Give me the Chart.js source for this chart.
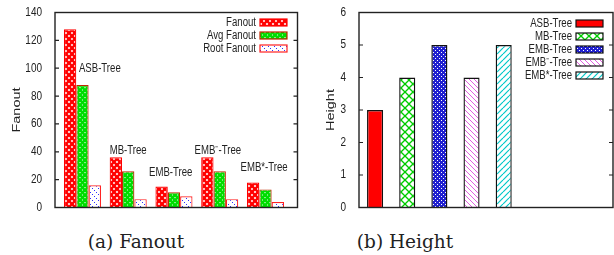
<!DOCTYPE html>
<html><head><meta charset="utf-8">
<script src="https://cdn.jsdelivr.net/npm/chart.js@4"></script>
<style>
body{margin:0;background:#fff;width:614px;height:255px;position:relative;overflow:hidden}
#c1{position:absolute;left:0;top:0}
#c2{position:absolute;left:305px;top:0}
.cap{position:absolute;top:231px;font-family:"DejaVu Serif";font-size:18.5px;color:#222;white-space:nowrap;transform:translateX(-50%)}
</style></head><body>
<canvas id="c1" width="300" height="220"></canvas>
<canvas id="c2" width="309" height="220"></canvas>
<div class="cap" style="left:136px">(a) Fanout</div>
<div class="cap" style="left:405px">(b) Height</div>
<script>
// ---- data ----
const treeCategories = ['ASB-Tree','MB-Tree','EMB-Tree','EMB\u207B-Tree','EMB*-Tree'];
const fanoutSeriesNames = ['Fanout','Avg Fanout','Root Fanout'];
const fanoutValues = [128,36,15,36,18];
const avgFanoutValues = [88,26,11,26,13];
const rootFanoutValues = [16,6,8,6,4];
const fanoutTicks = [0,20,40,60,80,100,120,140];
const groupLabelAnchorX = [0.38,1.0,1.93,2.96,3.97];
const groupLabelAnchorY = [99.5,40.5,24.7,40.5,28.3];
const heightValues = [3,4,5,4,5];
const heightTicks = [0,1,2,3,4,5,6];

// ---- patterns ----
function tile(size, fn){
  const c=document.createElement('canvas'); c.width=c.height=size;
  const g=c.getContext('2d'); fn(g,size);
  return c.getContext('2d').createPattern(c,'repeat');
}
function diag(g,s,dir){ // dir 1 = "\" , -1 = "/"
  for(const k of [-s,0,s]){
    g.beginPath();
    if(dir>0){g.moveTo(k,0);g.lineTo(k+s,s);} else {g.moveTo(k+s,0);g.lineTo(k,s);}
    g.stroke();
  }
}
function cross(bg,fg,s,lw){
  return tile(s,(g)=>{g.fillStyle=bg;g.fillRect(0,0,s,s);g.strokeStyle=fg;g.lineWidth=lw;diag(g,s,1);diag(g,s,-1);});
}
const patFanout = cross('#ffffff','#ff0000',6,2.4);
const patAvg = cross('#ffffff','#00dd00',5,2.6);
const patRoot = tile(6,(g)=>{g.fillStyle='#fff';g.fillRect(0,0,6,6);g.fillStyle='#3030ff';g.fillRect(0,0,1,1);g.fillRect(2,2,1,1);g.fillRect(4,4,1,1);});
const patMB = cross('#ffffff','#00cc00',8,1.3);
const patEMB = tile(4,(g)=>{g.fillStyle='#2020d0';g.fillRect(0,0,4,4);g.fillStyle='#fff';g.fillRect(0,0,1,1);g.fillRect(2,2,1,1);});
const patEMBm = tile(5,(g)=>{g.fillStyle='#fff';g.fillRect(0,0,5,5);g.strokeStyle='#e060e0';g.lineWidth=1;diag(g,5,1);});
const patEMBs = tile(6,(g)=>{g.fillStyle='#fff';g.fillRect(0,0,6,6);g.strokeStyle='#00c8c8';g.lineWidth=1.2;diag(g,6,-1);});

// ---- condensed text (reference is horizontally squeezed) ----
function condense(ctx,f){
  const orig=ctx.fillText;
  ctx.fillText=function(t,x,y,mw){
    const m=this.getTransform();
    const p=m.transformPoint(new DOMPoint(x,y));
    this.save();
    this.setTransform(new DOMMatrix().translate(p.x,p.y).scale(f,1).translate(-p.x,-p.y).multiply(m));
    if(mw===undefined) orig.call(this,t,x,y); else orig.call(this,t,x,y,mw);
    this.restore();
  };
}
const FONT='"Liberation Sans", Arial, sans-serif';
const INK='#222';

const framePlugin={id:'frame',afterDatasetsDraw(chart){
  const ctx=chart.ctx,a=chart.chartArea,y=chart.scales.y;
  ctx.save();ctx.strokeStyle=INK;ctx.lineWidth=1.4;
  ctx.strokeRect(a.left,a.top,a.right-a.left,a.bottom-a.top);
  ctx.lineWidth=1.2;
  y.ticks.forEach(t=>{const py=y.getPixelForValue(t.value);
    ctx.beginPath();ctx.moveTo(a.left,py);ctx.lineTo(a.left+4,py);ctx.moveTo(a.right,py);ctx.lineTo(a.right-4,py);ctx.stroke();});
  ctx.restore();
}};
function legendPlugin(items,rightInset,topInset){
  return {id:'keybox',afterDraw(chart){
    const ctx=chart.ctx,a=chart.chartArea;
    ctx.save();ctx.font='12px '+FONT;ctx.textAlign='right';ctx.textBaseline='middle';
    items(chart).forEach((it,i)=>{
      const y=a.top+topInset+i*13, sr=a.right-rightInset, sl=sr-27;
      ctx.fillStyle=it.fill;ctx.fillRect(sl,y-3.5,27,7);
      ctx.strokeStyle=it.border;ctx.lineWidth=1.2;ctx.strokeRect(sl,y-3.5,27,7);
      ctx.fillStyle=INK;ctx.fillText(it.text,sl-4,y+0.5);
    });
    ctx.restore();
  }};
}
const groupLabels={id:'grouplabels',afterDraw(chart){
  const ctx=chart.ctx,x=chart.scales.x,y=chart.scales.y;
  ctx.save();ctx.font='12px '+FONT;ctx.fillStyle=INK;ctx.textAlign='center';ctx.textBaseline='middle';
  treeCategories.forEach((t,i)=>ctx.fillText(t,x.getPixelForValue(groupLabelAnchorX[i]),y.getPixelForValue(groupLabelAnchorY[i])));
  ctx.restore();
}};

function yScale(ticks,max,width,title,tpad){
  return {min:0,max:max,
    afterBuildTicks:s=>{s.ticks=ticks.map(v=>({value:v}));},
    afterFit:s=>{s.width=width;},
    grid:{display:false},border:{display:false},
    ticks:{padding:5,font:{family:FONT,size:12.5},color:INK},
    title:{display:true,text:title,font:{family:FONT,size:14.5},color:INK,padding:{top:tpad,bottom:0}}};
}

// ---- chart (a) ----
const ctx1=document.getElementById('c1').getContext('2d');
condense(ctx1,0.8);
const fills=[patFanout,patAvg,patRoot], borders=['#ff0000','#c02800','#ff2020'];
const seriesValues=[fanoutValues,avgFanoutValues,rootFanoutValues];
new Chart(ctx1,{
  type:'bar',
  data:{datasets:fanoutSeriesNames.map((n,k)=>({label:n,data:seriesValues[k].map((v,i)=>({x:i,y:v})),
    backgroundColor:fills[k],borderColor:borders[k],borderWidth:1.2,borderSkipped:'bottom'}))},
  options:{responsive:false,animation:false,events:[],
    layout:{padding:{top:12,right:2.5,bottom:10,left:0}},
    datasets:{bar:{categoryPercentage:0.81,barPercentage:1}},
    plugins:{legend:{display:false},tooltip:{enabled:false}},
    scales:{
      x:{type:'linear',display:false,offset:false,min:-0.6,max:4.7,ticks:{stepSize:1,includeBounds:false},grid:{offset:false}},
      y:yScale(fanoutTicks,140,55,'Fanout',8)
    }},
  plugins:[framePlugin,groupLabels,legendPlugin(ch=>ch.data.datasets.map(d=>({text:d.label,fill:d.backgroundColor,border:d.borderColor})),10.5,10)]
});

// ---- chart (b) ----
const ctx2=document.getElementById('c2').getContext('2d');
condense(ctx2,0.8);
const heightFills=['#ff0000',patMB,patEMB,patEMBm,patEMBs];
new Chart(ctx2,{
  type:'bar',
  data:{datasets:[{label:'Height',data:heightValues.map((v,i)=>({x:i,y:v})),
    backgroundColor:heightFills,borderColor:'#111',borderWidth:1.4,borderSkipped:'bottom'}]},
  options:{responsive:false,animation:false,events:[],
    layout:{padding:{top:11,right:1,bottom:10,left:0}},
    datasets:{bar:{categoryPercentage:1,barPercentage:0.5}},
    plugins:{legend:{display:false},tooltip:{enabled:false}},
    scales:{
      x:{type:'linear',display:false,offset:false,min:-0.5,max:7.4,ticks:{stepSize:1,includeBounds:false},grid:{offset:false}},
      y:yScale(heightTicks,6,54,'Height',17)
    }},
  plugins:[framePlugin,legendPlugin(ch=>treeCategories.map((t,i)=>({text:t,fill:heightFills[i],border:'#111'})),10,11)]
});
</script>
</body></html>
